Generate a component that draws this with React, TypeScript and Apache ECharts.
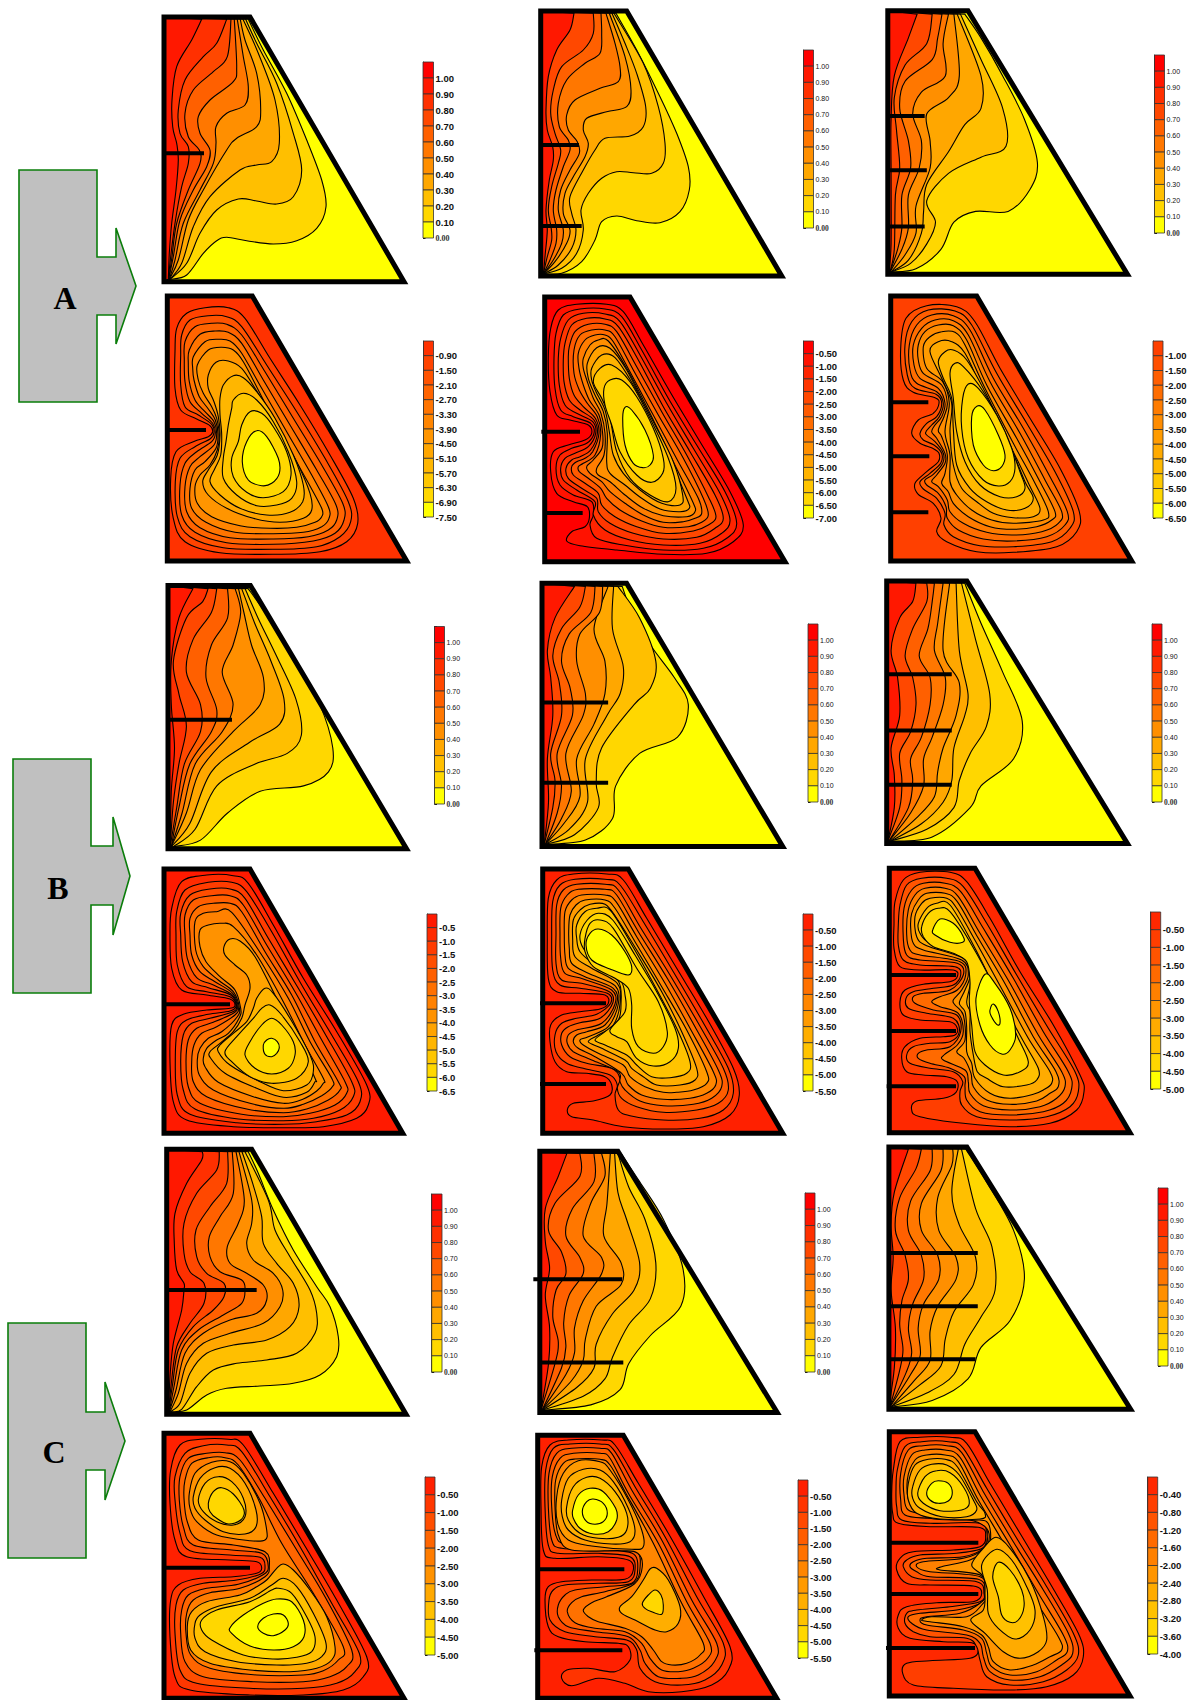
import React, { useEffect, useRef } from "react";
import * as echarts from "echarts";

// ---------- colour-bar tick labels ----------
const TEMP_LABELS = ["1.00","0.90","0.80","0.70","0.60","0.50","0.40","0.30","0.20","0.10","0.00"];
const A1B_LABELS = ["-0.90","-1.50","-2.10","-2.70","-3.30","-3.90","-4.50","-5.10","-5.70","-6.30","-6.90","-7.50"];
const A2B_LABELS = ["-0.50","-1.00","-1.50","-2.00","-2.50","-3.00","-3.50","-4.00","-4.50","-5.00","-5.50","-6.00","-6.50","-7.00"];
const A3B_LABELS = ["-1.00","-1.50","-2.00","-2.50","-3.00","-3.50","-4.00","-4.50","-5.00","-5.50","-6.00","-6.50"];
const B1B_LABELS = ["-0.5","-1.0","-1.5","-2.0","-2.5","-3.0","-3.5","-4.0","-4.5","-5.0","-5.5","-6.0","-6.5"];
const B2B_LABELS = ["-0.50","-1.00","-1.50","-2.00","-2.50","-3.00","-3.50","-4.00","-4.50","-5.00","-5.50"];
const B3B_LABELS = ["-0.50","-1.00","-1.50","-2.00","-2.50","-3.00","-3.50","-4.00","-4.50","-5.00"];
const C1B_LABELS = B3B_LABELS;
const C2B_LABELS = B2B_LABELS;
const C3B_LABELS = ["-0.40","-0.80","-1.20","-1.60","-2.00","-2.40","-2.80","-3.20","-3.60","-4.00"];

// ---------- enclosure outlines and baffles [x1, x2, y] ----------
const A1T_WALL = [492,51,750,51,1212,845,492,845];
const A1T_BAFFLES = [[492,612,460]];
const A1B_WALL = [82,33,337,33,800,828,82,828];
const A1B_BAFFLES = [[82,198,435]];
const A2T_WALL = [62,33,320,33,785,828,62,828];
const A2T_BAFFLES = [[62,177,435],[62,185,678]];
const A2B_WALL = [44,36,300,36,765,830,44,830];
const A2B_BAFFLES = [[34,150,440],[44,158,684]];
const A3T_WALL = [819,10,893,10,1040,253,819,253];
const A3T_BAFFLES = [[819,853,107],[819,855,157],[819,853,209]];
const A3B_WALL = [62,33,320,33,785,828,62,828];
const A3B_BAFFLES = [[62,175,352],[62,178,514],[62,175,682]];
const B1T_WALL = [155,540,231,540,375,783,155,783];
const B1T_BAFFLES = [[155,214,664]];
const B1B_WALL = [42,42,300,42,758,835,42,835];
const B1B_BAFFLES = [[42,240,448]];
const B2T_WALL = [500,538,578,538,722,781,500,781];
const B2T_BAFFLES = [[500,561,648],[500,561,722]];
const B2B_WALL = [38,42,295,42,758,835,38,835];
const B2B_BAFFLES = [[30,228,445],[30,228,687]];
const B3T_WALL = [818,536,892,536,1040,778,818,778];
const B3T_BAFFLES = [[818,878,622],[818,878,674],[818,878,724]];
const B3B_WALL = [58,40,315,40,780,833,58,833];
const B3B_BAFFLES = [[58,258,360],[58,258,528],[50,258,694]];
const C1T_WALL = [500,58,755,58,1218,853,500,853];
const C1T_BAFFLES = [[500,770,480]];
const C1B_WALL = [42,40,300,40,762,835,42,835];
const C1B_BAFFLES = [[36,300,443]];
const C2T_WALL = [498,1062,570,1062,717,1303,498,1303];
const C2T_BAFFLES = [[492,574,1180],[498,575,1257]];
const C2B_WALL = [38,46,295,46,755,835,38,835];
const C2B_BAFFLES = [[38,298,448],[28,292,691]];
const C3T_WALL = [820,1058,892,1058,1043,1300,820,1300];
const C3T_BAFFLES = [[820,902,1156],[820,902,1205],[820,900,1254]];
const C3B_WALL = [58,35,315,35,780,828,58,828];
const C3B_BAFFLES = [[58,325,368],[58,325,522],[48,315,684]];

// ---------- contour lines ----------
const A1T = [
[510,838,560,825,610,760,650,722,680,712,740,722,820,732,890,722,950,685,978,620,965,540,920,420,860,280,790,150,745,58],
[510,838,560,790,600,700,650,630,715,597,770,603,830,612,880,590,905,510,880,400,830,250,770,130,737,58],
[510,838,545,790,580,680,630,590,720,510,770,495,815,485,838,430,825,300,775,160,729,58],
[508,838,535,780,565,660,610,570,680,450,710,415,770,380,782,330,770,220,735,120,721,58],
[508,838,525,780,550,670,600,570,640,490,648,430,648,380,680,340,735,315,745,260,730,170,712,58],
[506,838,520,770,540,660,580,570,620,500,630,450,600,400,595,350,630,300,700,245,710,200,703,58],
[506,838,516,770,530,670,565,570,600,490,598,450,565,410,555,340,580,270,640,215,682,170,693,58],
[505,838,512,770,525,670,545,560,565,490,565,440,540,400,535,330,555,240,610,170,650,130,680,58],
[505,838,508,760,515,670,528,570,535,480,530,430,518,380,516,300,530,200,575,120,605,58],
];
const A1T_LEVELS = [9,8,7,6,5,4,3,2,1];
const A2T = [
[70,822,125,820,185,785,225,720,245,665,290,648,350,662,420,668,480,635,508,570,505,500,470,400,420,290,350,150,288,40],
[70,822,125,805,170,760,190,690,183,630,205,580,245,535,290,515,340,518,395,520,430,490,435,430,415,320,370,190,282,40],
[70,822,115,795,155,745,168,690,155,640,150,590,190,510,225,450,255,415,330,408,370,380,377,320,350,220,315,130,276,40],
[70,822,105,785,140,730,150,690,130,640,135,580,160,530,195,470,205,430,190,390,200,355,260,335,320,320,333,270,315,170,268,40],
[70,822,100,780,125,730,130,690,115,630,122,570,150,510,178,460,172,425,145,390,140,345,165,300,240,265,295,245,300,200,285,130,258,40],
[70,822,90,780,108,730,110,690,100,630,108,570,130,500,150,450,145,420,118,380,115,310,140,240,195,190,240,160,245,100,243,40],
[70,822,82,770,95,720,93,680,85,630,95,560,115,490,122,450,105,400,92,340,100,270,125,200,190,150,220,100,220,40],
[70,822,76,760,82,690,78,630,88,540,100,480,98,440,82,390,78,330,85,230,110,150,150,90,162,40],
];
const A2T_LEVELS = [9,8,7,6,5,4,3,1];
const A3T = [
[822,251,845,248,868,230,880,205,900,195,930,195,950,175,957,150,945,110,925,70,905,35,890,13],
[822,251,840,243,855,225,863,205,855,185,875,160,905,145,928,135,925,100,905,55,886,13],
[822,251,838,240,850,215,852,195,855,170,875,140,890,115,905,100,905,70,883,13],
[822,251,835,235,845,215,845,190,858,155,858,130,855,105,875,90,885,70,880,13],
[821,251,832,230,838,210,838,180,848,155,850,130,842,105,850,85,872,70,870,40,875,13],
[821,251,828,230,832,210,832,180,840,155,838,130,830,100,835,75,860,55,865,35,869,13],
[821,251,825,230,826,180,830,155,827,120,825,90,835,60,855,40,860,13],
[820,251,822,225,822,160,822,110,825,70,838,35,846,13],
];
const A3T_LEVELS = [9,8,7,6,5,4,3,1];
const B1T = [
[160,781,185,775,210,750,240,730,280,725,303,712,307,690,295,650,270,605,248,570,229,543],
[160,781,180,765,200,725,235,705,265,695,278,678,273,645,255,605,238,570,226,543],
[158,781,175,760,195,712,230,685,258,668,262,645,250,610,235,575,223,543],
[158,781,172,750,185,710,215,675,240,650,243,625,232,595,225,565,220,543],
[158,781,168,750,180,705,205,675,215,650,205,620,215,595,222,565,217,543],
[158,781,165,745,175,705,195,675,200,655,190,625,195,595,210,570,210,543],
[157,781,163,745,170,705,185,675,185,650,172,620,178,590,195,565,200,543],
[157,781,160,740,165,705,172,670,165,640,160,610,172,570,187,555,192,543],
[157,781,158,730,161,690,158,650,158,610,165,570,178,543],
];
const B1T_LEVELS = [9,8,7,6,5,4,3,2,1];
const B2T = [
[503,779,540,775,565,755,568,725,590,695,625,680,635,650,622,625,600,595,583,565,574,541],
[503,779,530,770,552,745,550,722,555,690,585,650,600,635,605,610,590,570,570,541],
[503,779,525,765,542,740,540,700,560,660,572,640,575,615,565,580,566,541],
[503,779,520,760,535,735,532,700,548,668,558,640,558,610,548,580,561,541],
[503,779,518,755,527,730,522,695,538,660,540,640,532,610,535,585,553,565,556,541],
[503,779,514,750,518,725,514,695,528,660,526,635,518,610,525,585,545,565,549,541],
[502,779,510,745,512,720,508,695,518,660,516,630,510,605,518,580,535,560,540,541],
[502,779,506,740,505,700,510,660,508,625,505,600,512,570,530,541],
];
const B2T_LEVELS = [9,8,7,6,5,4,3,1];
const B3T = [
[821,776,860,772,895,745,905,725,935,700,943,665,925,620,905,575,890,538],
[821,776,855,765,880,745,885,720,895,695,910,670,913,640,900,590,887,538],
[821,776,850,760,870,740,878,720,880,690,890,660,893,640,885,600,882,538],
[821,776,845,755,862,735,865,712,870,690,882,660,885,630,870,600,876,538],
[820,776,840,750,852,725,852,700,860,680,870,650,872,625,862,600,865,575,870,538],
[820,776,838,745,842,720,840,700,850,680,858,650,858,625,848,605,856,580,860,555,862,538],
[819,776,830,745,832,720,830,695,840,675,845,650,842,625,835,605,842,580,855,555,855,538],
[819,776,825,745,825,715,822,690,830,660,828,625,822,600,830,570,842,555,845,538],
];
const B3T_LEVELS = [9,8,7,6,5,4,3,1];
const C1T = [
[515,845,560,840,620,795,680,775,780,768,880,760,960,735,1010,680,1015,620,990,530,950,470,880,360,820,240,775,130,745,65],
[512,845,545,838,590,770,640,720,710,700,800,690,890,670,945,610,950,550,930,480,870,380,825,300,805,210,735,65],
[510,845,540,820,570,730,620,670,700,645,800,630,870,590,897,530,880,460,830,400,790,340,785,260,758,160,726,65],
[510,845,535,790,560,700,610,640,690,610,790,580,840,530,848,480,820,430,760,390,740,340,755,280,755,210,717,65],
[508,845,528,780,555,670,610,610,690,570,770,550,800,510,790,465,740,430,690,400,682,350,715,280,733,210,708,65],
[508,845,522,770,545,660,595,600,670,555,725,520,735,480,725,450,660,425,630,380,628,320,660,260,700,190,697,65],
[506,845,518,760,535,660,580,590,640,540,672,500,672,460,620,430,590,380,588,300,630,230,680,160,683,65],
[506,845,514,760,530,650,570,580,612,520,612,460,570,425,552,370,552,280,590,190,650,120,658,65],
[506,845,510,740,520,640,545,540,552,480,552,460,530,420,523,340,525,250,560,160,605,90,607,65],
];
const C1T_LEVELS = [9,8,7,6,5,4,3,2,1];
const C2T = [
[500,1301,545,1296,572,1282,580,1258,600,1232,628,1205,630,1170,612,1125,590,1090,573,1064],
[500,1301,538,1288,558,1272,565,1252,580,1222,600,1198,605,1165,595,1125,580,1095,570,1064],
[500,1301,532,1280,548,1262,550,1240,565,1212,585,1190,590,1165,578,1125,570,1100,567,1064],
[500,1301,527,1274,538,1255,540,1235,550,1205,573,1185,573,1165,557,1140,560,1110,563,1064],
[500,1301,522,1268,530,1248,530,1225,538,1200,555,1175,555,1160,538,1140,545,1110,558,1085,555,1064],
[500,1301,518,1262,522,1242,520,1220,525,1195,538,1175,535,1160,522,1140,528,1115,548,1090,548,1064],
[499,1301,512,1258,515,1238,510,1215,513,1190,522,1175,518,1155,506,1135,512,1110,535,1085,535,1064],
[499,1301,506,1258,507,1225,503,1195,507,1170,503,1145,503,1115,515,1085,523,1064],
];
const C2T_LEVELS = [9,8,7,6,5,4,3,1];
const C3T = [
[822,1298,860,1292,893,1272,905,1243,932,1218,945,1180,935,1135,910,1090,891,1060],
[822,1298,855,1285,880,1268,890,1240,905,1215,918,1190,915,1150,900,1115,887,1060],
[822,1298,848,1278,868,1260,872,1235,880,1210,898,1185,900,1160,885,1130,878,1100,884,1060],
[822,1298,844,1273,858,1255,858,1228,865,1205,882,1180,882,1160,866,1135,865,1105,878,1075,879,1060],
[821,1298,840,1268,849,1250,847,1225,852,1203,866,1180,865,1158,850,1135,850,1110,868,1080,870,1060],
[821,1298,836,1266,841,1248,838,1225,842,1203,852,1180,850,1158,838,1135,840,1108,858,1080,860,1060],
[821,1298,830,1264,833,1245,830,1222,832,1200,838,1180,835,1158,826,1135,830,1105,845,1078,850,1060],
[820,1298,825,1262,826,1225,822,1190,824,1160,822,1130,825,1100,838,1060],
];
const C3T_LEVELS = [9,8,7,6,5,4,3,1];

const A1B = [
[110,130,140,85,195,68,265,68,315,100,390,220,480,360,570,510,640,640,653,715,620,770,540,800,400,808,240,803,135,770,100,700,92,580,108,500,160,470,205,455,218,440,210,422,170,402,122,375,105,310,105,200],
[125,150,150,105,205,92,260,95,305,125,380,240,470,380,555,520,625,650,632,710,600,755,530,785,400,793,250,788,150,755,112,695,106,590,120,520,165,485,210,462,222,443,215,418,175,390,135,365,122,300,122,210],
[135,170,165,125,215,115,260,118,305,150,375,260,460,400,545,540,608,655,612,705,585,745,520,768,400,778,260,773,165,742,125,690,120,600,135,535,170,500,215,470,226,445,218,415,185,385,150,350,135,290,133,225],
[148,195,180,148,225,138,265,142,305,175,370,285,450,420,530,555,588,660,590,705,565,735,505,755,400,762,270,758,180,728,140,680,135,605,150,545,180,515,222,480,230,445,222,410,195,380,165,345,148,290,145,235],
[160,215,195,170,235,163,270,168,305,205,365,310,440,440,515,570,565,665,567,700,545,725,490,742,400,746,285,742,198,712,155,670,150,610,165,555,195,530,228,490,234,447,226,405,205,372,178,335,162,285,158,250],
[172,240,205,195,245,187,280,195,310,230,365,335,430,460,500,585,545,670,545,695,525,712,470,727,390,730,300,722,215,695,172,655,165,605,180,570,210,540,232,495,238,450,230,400,215,365,190,325,175,285],
[205,270,228,232,265,228,305,250,345,310,405,410,470,530,510,625,515,675,490,700,420,712,340,700,260,670,205,630,188,590,205,555,232,510,240,450,235,395,222,350,205,310],
[250,300,280,272,310,278,350,320,405,400,460,510,490,600,488,650,450,682,380,690,300,670,240,630,210,590,225,550,242,510,245,450,240,390,240,340],
[280,345,310,325,350,345,400,410,445,500,470,590,455,640,410,660,350,662,290,630,250,580,250,520,258,470,265,420,275,370],
[305,420,330,380,365,385,400,425,440,500,453,570,430,620,370,638,320,622,280,575,275,520,295,470],
[320,470,350,437,380,455,415,520,418,565,395,595,365,602,325,585,307,530],
];
const A1B_LEVELS = [1,2,3,4,5,6,7,8,9,10,11];
const A2B = [
[62,130,85,75,140,58,230,58,280,80,340,180,420,320,510,470,600,620,640,720,610,770,530,805,400,808,260,795,150,782,110,768,125,740,165,725,178,700,172,665,130,650,80,625,62,560,70,500,115,480,165,465,185,445,175,420,120,405,80,390,60,320,55,220],
[78,145,100,90,150,72,225,72,275,95,335,195,415,340,500,480,585,620,620,715,590,760,520,790,400,795,280,780,200,760,180,720,190,690,185,650,130,630,90,600,78,550,90,510,125,490,170,475,192,445,182,415,130,395,92,375,75,310,72,220],
[92,160,115,105,160,85,225,87,270,110,330,210,410,355,490,490,570,625,600,705,575,745,510,775,400,780,300,765,225,735,190,690,195,650,140,615,100,585,92,550,105,520,135,505,175,485,197,445,188,410,140,385,105,360,88,300,85,220],
[105,175,125,120,170,100,225,102,265,125,325,225,400,365,480,500,555,630,580,700,555,730,500,757,400,762,310,745,240,715,205,680,200,640,155,610,115,580,108,550,125,525,150,515,182,495,202,447,192,405,150,375,118,345,102,290,100,225],
[118,185,135,140,175,118,225,118,260,140,320,245,395,380,470,510,535,635,558,695,535,720,490,738,400,745,320,725,255,695,215,660,205,625,165,595,130,570,125,545,140,530,165,520,188,500,207,445,196,400,160,365,132,330,118,280,115,220],
[132,195,150,150,185,135,225,135,255,155,310,255,385,390,460,520,520,640,535,690,515,712,475,725,400,727,335,708,270,675,230,640,212,610,175,580,148,560,145,545,160,535,195,510,212,447,202,395,172,355,148,315,132,265],
[145,205,165,165,195,150,225,150,250,170,305,270,375,400,445,530,505,640,515,685,495,700,460,710,400,712,340,690,285,655,240,620,215,590,180,565,170,545,190,525,216,490,218,447,207,390,178,345,160,300,147,250],
[160,220,180,180,205,165,235,168,290,250,360,385,430,530,488,650,495,680,470,695,400,692,340,670,285,630,240,590,205,570,200,550,222,510,225,445,213,385,190,340,172,290,160,250],
[172,235,200,188,240,190,290,255,350,375,415,510,470,640,478,670,450,680,390,672,335,640,285,600,240,565,230,530,232,445,220,380,195,330,175,280],
[185,250,215,210,255,218,310,300,375,420,430,530,458,630,450,660,395,655,330,615,280,565,250,510,238,440,225,375,198,320,185,285],
[190,290,210,250,245,240,300,290,360,400,415,520,438,610,415,650,360,630,300,580,260,500,240,400,215,340],
[222,310,240,285,275,285,320,335,370,430,400,520,398,565,365,592,320,570,270,500,245,420,225,360],
[278,400,285,367,305,375,345,435,370,510,360,540,340,548,310,535,285,480],
];
const A2B_LEVELS = [1,2,3,4,5,6,7,8,9,10,11,12,13];
const A3B = [
[92,190,108,100,170,62,260,65,315,110,390,250,480,400,570,550,628,680,620,740,560,785,430,802,320,800,230,770,200,740,213,700,190,655,145,628,135,595,170,560,205,530,207,505,188,490,150,475,125,445,145,405,190,385,207,355,195,338,130,322,100,285],
[105,180,125,110,175,75,255,78,305,120,380,265,470,415,555,560,610,680,600,730,545,770,430,785,330,782,250,755,222,720,225,685,200,640,160,612,150,590,180,565,212,535,215,505,192,480,160,465,150,445,170,415,200,395,215,355,198,328,135,310,112,270],
[118,180,140,120,185,90,250,92,300,135,370,280,460,430,540,575,592,680,585,720,530,755,430,768,340,762,265,735,232,700,228,665,205,625,170,600,165,585,190,568,218,535,220,505,195,470,170,450,168,440,185,420,208,395,220,355,200,320,140,295,120,255],
[130,180,155,130,195,105,250,107,295,150,360,290,450,445,525,585,575,680,565,715,515,740,430,750,350,742,280,715,240,680,232,645,205,605,185,590,200,570,225,535,225,505,200,460,185,440,195,420,215,395,225,355,205,310,150,280,132,240],
[145,180,165,140,205,120,250,122,290,165,350,300,440,460,510,590,555,680,545,705,500,725,430,733,360,725,295,695,250,655,235,620,215,595,225,565,232,510,215,455,205,435,222,395,232,355,215,300,160,265,145,225],
[160,185,180,155,215,140,255,142,285,180,345,310,430,475,495,595,535,680,520,705,430,715,365,705,305,675,260,630,240,590,240,510,225,440,238,355,218,290,170,250],
[180,200,205,170,245,170,285,205,340,320,415,470,478,600,510,670,490,695,430,698,370,685,320,650,275,610,250,540,240,440,245,355,215,280],
[205,230,225,200,250,195,290,225,350,330,415,470,465,590,490,640,465,670,410,675,350,650,300,610,260,540,250,430,245,340,220,280],
[240,265,255,235,280,245,340,320,400,430,450,560,465,610,440,635,390,635,330,600,285,530,260,440,250,340],
[278,340,295,297,325,310,380,390,425,490,435,550,420,590,385,603,340,585,295,520,275,430],
[305,395,322,363,345,375,385,450,405,510,395,545,370,557,340,540,310,480],
];
const A3B_LEVELS = [1,2,3,4,5,6,7,8,9,10,11];
const B1B = [
[65,160,95,80,170,60,250,62,295,85,370,210,460,370,560,530,650,690,655,750,620,790,520,815,400,818,250,815,110,795,70,740,60,620,65,510,100,478,170,465,240,460,255,450,240,432,170,420,95,405,65,340,60,240],
[80,170,105,105,175,82,245,82,290,110,365,230,455,390,545,540,625,680,630,740,590,780,500,800,400,808,260,803,120,778,82,720,76,620,82,530,110,495,175,478,240,468,258,453,240,425,170,410,110,395,82,330,78,240],
[92,175,120,120,180,102,240,102,285,130,355,250,445,400,530,545,605,680,610,725,570,765,490,790,400,797,265,792,135,762,100,705,92,620,100,540,125,505,180,490,245,472,260,455,242,420,175,398,125,380,98,320,92,240],
[105,180,130,135,185,122,240,122,280,150,350,270,435,410,515,555,585,680,590,715,555,750,480,775,400,785,275,778,150,745,115,695,108,620,115,555,140,520,190,502,250,475,262,455,245,418,185,388,140,368,112,310,105,240],
[120,190,145,155,190,145,240,145,275,170,345,290,425,420,495,560,565,680,570,705,535,735,470,762,400,773,290,762,170,725,130,680,125,620,132,570,155,535,200,515,255,480,265,458,248,415,195,380,150,350,125,300,120,240],
[135,200,160,175,200,170,245,172,335,300,415,430,480,560,545,670,547,695,515,722,460,748,400,760,300,745,190,705,148,660,142,615,150,580,175,550,215,530,262,485,268,458,250,410,205,375,160,335,137,285],
[150,225,175,210,215,205,250,215,320,300,400,440,465,570,520,670,520,685,500,708,460,732,400,745,310,725,205,682,165,635,160,610,170,580,200,555,235,535,268,488,272,460,255,405,210,365,168,320,150,275],
[222,275,240,252,270,258,315,305,385,440,445,560,495,670,495,680,470,712,400,727,320,700,225,655,182,610,180,590,210,565,250,530,275,490,285,450,300,400,290,360,255,330,225,300],
[320,430,345,400,370,415,420,490,480,600,490,650,470,690,400,707,330,680,240,630,205,590,210,570,250,535,290,500,310,460],
[335,460,360,450,395,480,450,560,475,620,440,670,365,685,300,665,245,620,225,590,260,545,310,490],
[300,560,335,510,365,490,395,510,430,560,435,600,415,640,365,657,315,640,285,600],
[340,570,350,555,365,550,382,560,388,578,380,595,365,605,345,598],
];
const B1B_LEVELS = [1,2,3,4,5,6,7,8,9,10,11,12];
const B2B = [
[55,130,80,75,130,57,230,57,280,75,350,190,440,340,530,490,610,640,628,720,600,780,520,815,400,822,280,815,190,795,125,785,112,765,130,745,190,738,240,720,245,690,225,665,170,655,110,650,75,620,60,560,62,510,95,480,150,470,210,462,235,445,225,420,150,415,80,410,55,370,52,250],
[68,140,90,90,135,73,225,73,270,90,340,200,430,350,515,495,595,640,610,715,580,765,510,790,400,795,300,782,265,765,255,720,262,690,240,660,160,640,110,625,78,590,75,540,95,505,140,490,200,478,242,445,232,415,150,400,90,390,68,345,65,240],
[80,150,100,105,140,88,225,88,265,105,330,215,420,360,505,505,580,640,595,705,565,745,500,765,400,772,320,755,275,730,262,700,270,670,245,640,170,625,120,605,95,570,95,535,115,515,150,503,210,490,248,445,238,410,155,385,95,375,78,325,78,240],
[92,160,112,120,145,103,225,103,260,120,325,230,415,375,495,515,565,645,575,695,545,730,490,748,400,752,330,738,285,705,270,680,265,650,185,615,130,590,112,565,115,540,140,525,215,505,255,447,245,405,160,372,105,355,92,310,90,240],
[105,170,125,135,155,120,225,120,258,140,320,245,405,385,480,520,550,650,557,690,530,715,480,730,400,733,335,720,295,690,275,655,195,605,145,580,130,560,140,540,170,530,225,510,260,447,250,400,165,365,115,340,105,300,103,240],
[120,180,138,150,165,135,225,135,255,160,315,260,395,395,470,525,530,650,530,685,490,705,440,712,400,712,345,695,300,665,280,630,205,595,160,570,150,555,175,545,235,515,265,447,255,392,175,355,125,325,118,280,116,230],
[130,195,150,165,180,148,225,148,260,190,320,285,395,410,455,530,500,640,495,675,450,690,380,690,340,665,305,640,285,615,215,580,175,560,205,540,250,510,270,447,262,385,185,340,135,305,128,255],
[140,210,165,170,200,160,240,165,300,260,370,385,440,520,480,620,470,655,420,668,365,665,320,630,290,600,225,570,195,555,225,530,265,495,273,450,265,378,195,330,150,290,140,250],
[150,240,172,195,205,175,248,195,315,300,380,410,435,520,445,580,420,620,370,633,320,610,290,560,260,545,240,525,285,470,285,420,270,375,200,325,160,280],
[165,250,180,205,210,195,250,220,320,340,385,440,412,530,400,575,370,595,325,575,305,520,305,450,295,400,255,370,190,335,165,290],
[168,270,180,235,205,222,245,240,285,290,305,335,295,360,240,342,185,315],
];
const B2B_LEVELS = [1,2,3,4,5,6,7,8,9,9,10];
const B3B = [
[75,140,100,75,150,52,240,52,290,80,360,190,450,350,550,510,630,660,642,710,620,765,540,805,420,815,280,805,150,785,125,765,140,738,220,730,258,712,262,680,230,665,160,660,110,650,95,610,105,575,150,550,220,545,255,540,262,520,240,500,150,495,100,480,90,440,105,405,160,388,240,380,262,365,250,345,150,345,90,335,72,280,72,210],
[90,150,110,90,155,70,230,70,280,95,350,205,440,360,535,520,615,650,625,710,600,755,530,785,420,795,320,785,275,750,270,710,278,680,250,650,180,640,120,625,110,600,130,575,180,565,240,560,268,530,250,490,170,475,115,460,108,430,130,410,190,400,250,390,272,360,255,335,150,330,100,315,85,270,85,210],
[102,160,125,105,160,85,225,85,272,110,340,220,430,370,520,530,595,650,605,700,580,745,520,770,420,780,330,770,290,735,285,695,283,665,240,640,180,625,145,610,145,595,170,585,240,575,272,530,260,480,190,465,135,445,130,425,160,415,240,405,280,360,262,325,150,315,110,300,100,250],
[115,165,135,120,165,100,225,100,265,125,330,235,420,385,505,540,575,650,585,695,560,730,510,755,420,765,340,752,300,715,295,680,285,645,220,615,222,600,262,570,280,530,265,475,210,455,185,440,210,425,262,405,287,360,270,320,150,300,120,285,110,240],
[125,175,145,135,170,115,225,115,262,140,325,250,410,395,490,545,558,650,565,695,540,715,500,738,420,748,350,735,310,695,303,655,282,610,260,590,285,555,280,480,255,450,250,435,275,405,295,360,275,315,160,285,130,265,122,220],
[135,185,155,145,180,130,230,130,260,160,320,265,400,410,475,550,540,650,545,685,520,705,490,718,420,730,360,715,315,670,305,625,290,590,290,520,285,470,268,445,285,405,300,360,280,310,170,272,140,245],
[145,205,170,160,200,145,240,150,310,270,385,420,455,550,505,640,500,675,470,690,400,695,350,670,322,650,310,600,300,530,300,470,290,440,305,360,285,305,180,265,150,235],
[155,215,175,175,205,160,240,170,305,270,375,400,440,540,475,620,450,650,400,660,345,630,315,590,305,510,298,440,300,380,290,320,250,295,190,275,160,245],
[188,225,210,192,250,205,280,245,278,262,240,262,195,240],
[318,430,345,358,375,385,420,460,437,540,420,585,395,597,360,570,330,510],
[360,465,370,447,385,470,390,505,380,508,362,480],
];
const B3B_LEVELS = [1,2,3,4,5,6,7,8,9,9,10];
const C1B = [
[62,150,90,75,150,58,235,58,280,75,370,220,460,370,560,540,650,710,640,770,580,810,460,825,300,825,120,810,75,770,60,650,62,540,85,495,150,475,250,470,320,460,335,445,320,425,240,420,110,410,75,360,60,250],
[75,170,105,100,160,77,230,75,275,95,360,230,450,380,545,550,628,700,615,755,560,790,460,805,300,805,140,790,90,750,75,640,78,555,100,510,160,490,260,480,332,462,345,440,330,412,240,405,120,392,90,340,75,240],
[90,170,115,115,170,100,225,98,270,120,345,235,440,390,525,530,605,690,590,740,540,770,460,785,310,785,160,770,105,725,92,640,95,570,115,525,170,505,265,493,338,465,355,440,335,400,245,390,130,375,100,320,88,240],
[105,180,125,130,175,113,225,113,265,135,330,240,395,370,490,520,580,680,565,720,520,752,460,765,320,765,180,745,122,705,108,640,110,580,130,540,180,518,270,505,345,470,358,440,345,395,250,375,145,360,112,305,102,235],
[118,220,135,160,185,127,240,125,280,160,330,250,350,330,345,360,300,362,200,345,140,305,120,265],
[130,230,150,175,195,143,240,145,285,190,318,270,318,320,285,342,220,335,165,300,135,265],
[145,240,165,190,205,170,245,185,280,235,285,290,250,315,200,305,160,275],
[175,250,190,215,215,203,250,222,282,270,272,300,235,312,200,295,180,275],
[350,480,380,445,400,432,430,450,480,510,530,590,555,680,545,720,500,745,420,755,300,750,180,730,122,690,112,620,125,575,170,545,270,525,320,500],
[400,475,440,500,490,580,528,670,515,710,470,730,380,735,260,725,165,695,135,655,135,610,150,585,200,560,300,535,365,495],
[385,505,425,520,470,590,495,650,485,695,440,712,370,717,280,705,185,660,155,630,155,600,200,570,300,545,365,510],
[380,537,425,545,460,600,462,650,430,680,370,690,300,678,245,640,242,620,280,585,340,550],
[370,582,400,585,415,610,405,630,370,647,340,640,323,620,340,595],
];
const C1B_LEVELS = [1,2,3,4,5,6,7,8,6,7,8,9,10];
const C2B = [
[50,140,75,75,130,60,230,60,270,75,340,190,430,340,530,520,615,680,610,750,560,795,470,815,370,815,300,790,220,775,140,797,110,775,125,750,190,745,270,755,315,720,310,680,280,670,180,665,100,650,70,620,60,540,70,500,110,485,200,480,300,478,325,450,310,420,220,410,90,415,55,390,48,260],
[62,150,85,85,135,72,225,72,265,88,330,200,420,350,515,530,595,670,590,735,540,780,470,795,390,785,345,745,335,690,305,660,210,650,120,635,75,600,72,540,85,510,120,495,220,490,310,485,330,450,315,410,220,400,100,400,70,375,60,260],
[72,160,95,100,140,85,225,85,260,100,320,210,410,360,500,540,575,670,568,725,520,765,470,775,400,770,360,730,345,690,310,650,210,635,130,620,100,590,100,555,120,525,150,510,240,500,320,490,338,450,322,400,220,390,110,385,80,360,70,260],
[82,170,105,115,145,100,225,100,255,115,310,220,400,370,485,545,555,670,548,715,505,745,460,755,410,750,375,715,350,670,300,635,210,625,150,608,127,575,140,548,170,530,240,515,325,490,345,445,330,390,220,378,120,372,92,345,80,260],
[92,180,115,130,150,117,225,118,255,135,300,215,385,370,470,550,535,670,525,705,485,730,440,735,410,725,385,690,350,650,300,625,220,605,190,590,175,570,200,548,245,530,328,492,352,440,338,400,290,392,140,390,100,345,90,260],
[95,230,115,160,160,122,225,125,255,150,310,240,350,330,355,380,320,388,200,378,130,360,98,310],
[110,240,130,175,175,148,225,150,265,185,310,265,330,330,315,365,260,372,180,360,130,330,112,290],
[125,260,145,200,185,172,225,175,270,215,305,280,305,330,280,352,220,355,165,340,130,300],
[143,270,160,225,195,205,235,215,272,265,275,300,250,335,205,342,165,325,145,295],
[172,275,185,245,205,237,235,250,247,280,235,305,210,313,185,305],
[375,447,395,445,430,480,465,560,460,610,425,635,390,630,330,600,290,580,285,560,320,530,355,480],
[352,550,370,525,390,510,408,525,415,555,410,583,380,575,360,565],
];
const C2B_LEVELS = [1,2,3,4,5,6,7,8,10,11,7,9];
const C3B = [
[70,150,90,65,150,52,240,52,290,70,360,190,450,340,540,490,625,640,640,710,610,765,530,800,420,810,250,805,130,795,98,760,110,730,180,722,300,715,325,690,305,668,220,665,120,655,85,625,85,585,110,560,200,548,310,545,335,520,310,498,180,495,110,490,80,450,90,415,130,395,250,390,330,380,347,350,325,322,180,320,85,310,68,280,65,220],
[82,150,105,80,155,65,235,65,280,85,350,205,440,355,530,500,610,640,625,705,590,750,520,785,420,795,350,770,330,720,320,680,290,655,180,650,130,635,105,610,110,580,140,570,240,560,330,545,342,520,320,485,180,480,125,470,100,440,110,420,150,405,260,400,337,385,347,350,330,310,180,310,95,300,80,260,78,210],
[92,160,115,90,160,77,230,77,275,98,340,215,430,365,520,510,595,640,608,700,575,735,510,770,420,780,360,755,340,710,330,670,290,645,170,630,125,610,115,590,150,580,260,570,335,548,345,520,325,478,180,470,140,455,120,440,130,425,170,415,280,410,340,385,352,350,330,300,180,295,105,285,92,240],
[102,170,125,105,165,90,225,90,270,112,330,225,420,375,505,520,580,645,592,695,560,720,500,755,420,765,365,740,350,700,335,655,280,630,170,615,150,600,170,590,270,580,330,550,350,520,330,470,180,455,140,440,160,425,280,415,345,385,358,350,345,320,300,300,180,285,115,270,102,225],
[112,180,135,120,170,105,225,105,265,125,325,240,410,385,490,530,565,650,575,690,540,710,490,735,420,750,370,725,355,680,335,645,280,620,180,605,155,600,185,590,290,590,335,555,355,520,330,465,210,450,215,440,300,420,350,385,362,350,350,305,300,300,180,295,122,255],
[115,190,135,135,175,118,225,118,262,140,320,245,345,280,330,297,210,297,140,280,115,240],
[128,200,150,150,185,133,230,135,268,165,310,240,320,270,290,290,215,290,150,265,128,235],
[143,220,165,170,200,152,240,158,280,200,298,250,275,270,210,272,160,250],
[170,218,185,190,205,182,235,190,247,218,235,243,205,250,180,240],
[378,352,420,385,480,480,520,590,530,660,505,695,450,715,400,695,345,640,302,600,340,570,345,520,340,470,305,435,340,385],
[380,388,425,420,470,500,495,570,480,630,435,657,385,625,355,580,352,510,335,435],
[385,427,420,450,455,510,462,560,445,600,420,607,395,585,385,530,368,470],
];
const C3B_LEVELS = [1,2,3,4,5,6,7,8,10,6,7,8];

// ---------- page layout (px) ----------
const OVERVIEW: [number, number, number, number, number] = [0, 0, 1191, 1700, 0.9225];
const crop = (x: number, y: number, w: number, h: number): [number, number, number, number, number] => [x, y, w, h, 3];

type P = { closed: boolean; frame: number[]; wall: number[]; baffles: number[][]; lines: number[][]; levels: number[];
  labels: string[]; topG: number; bar: number[]; font: number; bold: boolean };

const T = (frame: any, wall: number[], baffles: number[][], lines: number[][], levels: number[], bar: number[], font = 7, bold = false): P =>
  ({ closed: false, frame, wall, baffles, lines, levels, labels: TEMP_LABELS, topG: 0, bar, font, bold });
const S = (frame: any, wall: number[], baffles: number[][], lines: number[][], levels: number[], labels: string[], topG: number, bar: number[]): P =>
  ({ closed: true, frame, wall, baffles, lines, levels, labels, topG, bar, font: 9.5, bold: true });

const PANELS: P[] = [
  T(crop(0,0,480,290), A1T_WALL, A1T_BAFFLES, A1T, A1T_LEVELS, [423,62,10.5,176], 9.5, true),
  S(crop(140,285,340,285), A1B_WALL, A1B_BAFFLES, A1B, A1B_LEVELS, A1B_LABELS, 50, [423.5,341,10,176]),
  T(crop(520,0,340,285), A2T_WALL, A2T_BAFFLES, A2T, A2T_LEVELS, [803.5,50,10,178]),
  S(crop(530,285,340,285), A2B_WALL, A2B_BAFFLES, A2B, A2B_LEVELS, A2B_LABELS, 0, [803.5,341,10,177]),
  T(OVERVIEW, A3T_WALL, A3T_BAFFLES, A3T, A3T_LEVELS, [1154.5,55,10,178]),
  S(crop(870,285,321,285), A3B_WALL, A3B_BAFFLES, A3B, A3B_LEVELS, A3B_LABELS, 64, [1153,341,10,177]),
  T(OVERVIEW, B1T_WALL, B1T_BAFFLES, B1T, B1T_LEVELS, [434.5,626.5,10,177.5]),
  S(crop(150,855,340,285), B1B_WALL, B1B_BAFFLES, B1B, B1B_LEVELS, B1B_LABELS, 26, [427,914,10,177]),
  T(OVERVIEW, B2T_WALL, B2T_BAFFLES, B2T, B2T_LEVELS, [808,624,10,178]),
  S(crop(530,855,340,285), B2B_WALL, B2B_BAFFLES, B2B, B2B_LEVELS, B2B_LABELS, 32, [803,914,10,177]),
  T(OVERVIEW, B3T_WALL, B3T_BAFFLES, B3T, B3T_LEVELS, [1152,624,10,178]),
  S(crop(870,855,321,285), B3B_WALL, B3B_BAFFLES, B3B, B3B_LEVELS, B3B_LABELS, 40, [1150.7,912,10,177]),
  T([0,1130,480,300,3], C1T_WALL, C1T_BAFFLES, C1T, C1T_LEVELS, [431.7,1194,10.3,178]),
  S(crop(150,1420,340,280), C1B_WALL, C1B_BAFFLES, C1B, C1B_LEVELS, C1B_LABELS, 32, [425,1477,10,178]),
  T(OVERVIEW, C2T_WALL, C2T_BAFFLES, C2T, C2T_LEVELS, [805,1193,10,179]),
  S(crop(525,1420,340,280), C2B_WALL, C2B_BAFFLES, C2B, C2B_LEVELS, C2B_LABELS, 32, [798,1480,10,178]),
  T(OVERVIEW, C3T_WALL, C3T_BAFFLES, C3T, C3T_LEVELS, [1158,1188,10,178]),
  S(crop(870,1420,321,280), C3B_WALL, C3B_BAFFLES, C3B, C3B_LEVELS, C3B_LABELS, 40, [1147.7,1477,10,177]),
];

const ARROWS = [
  { letter: "A", lx: 65, ly: 298, pts: [[19,170],[97,170],[97,257],[116,257],[116,228],[136,286],[116,344],[116,315],[97,315],[97,402],[19,402]] },
  { letter: "B", lx: 58, ly: 888, pts: [[13,759],[91,759],[91,846],[113,846],[113,817],[130,876],[113,935],[113,905],[91,905],[91,993],[13,993]] },
  { letter: "C", lx: 54, ly: 1452, pts: [[8,1323],[86,1323],[86,1412],[105,1412],[105,1382],[125,1441],[105,1500],[105,1470],[86,1470],[86,1558],[8,1558]] },
];

// ---------- drawing helpers ----------
const bandColor = (i: number, n: number, topG: number) => {
  if (i >= n - 1) return "#ffff00";
  const g = Math.round(topG + ((215 - topG) * i) / (n - 2));
  return `rgb(255,${g},0)`;
};
const f = (v: number) => v.toFixed(1);
function spline(p: number[][], closed: boolean) {
  const n = p.length;
  const at = (i: number) => (closed ? p[(i + n) % n] : p[Math.max(0, Math.min(n - 1, i))]);
  let d = `M${f(p[0][0])} ${f(p[0][1])}`;
  const last = closed ? n : n - 1;
  for (let i = 0; i < last; i++) {
    const a = at(i - 1), b = at(i), c = at(i + 1), e = at(i + 2);
    d += `C${f(b[0] + (c[0] - a[0]) / 6)} ${f(b[1] + (c[1] - a[1]) / 6)} ${f(c[0] - (e[0] - b[0]) / 6)} ${f(c[1] - (e[1] - b[1]) / 6)} ${f(c[0])} ${f(c[1])}`;
  }
  return d + (closed ? "Z" : "");
}
const pairs = (a: number[]) => {
  const out: number[][] = [];
  for (let i = 0; i < a.length; i += 2) out.push([a[i], a[i + 1]]);
  return out;
};

function buildOption() {
  const grid: any[] = [], xAxis: any[] = [], yAxis: any[] = [], series: any[] = [];
  PANELS.forEach((p) => {
    const [cx, cy, w, h, s] = p.frame;
    const gi = grid.length;
    grid.push({ left: cx, top: cy, width: w, height: h });
    xAxis.push({ type: "value", gridIndex: gi, min: 0, max: w * s, show: false });
    yAxis.push({ type: "value", gridIndex: gi, min: 0, max: h * s, inverse: true, show: false });
    const n = p.labels.length;
    type Item = { kind: string; pts?: number[][]; lvl?: number; b?: number[] };
    const items: Item[] = [{ kind: "base" }];
    p.lines.forEach((l, i) => items.push({ kind: "line", pts: pairs(l), lvl: p.levels[i] }));
    items.push({ kind: "wall" });
    p.baffles.forEach((b) => items.push({ kind: "baffle", b }));
    const wall = pairs(p.wall);
    series.push({
      type: "custom", xAxisIndex: gi, yAxisIndex: gi, clip: false, silent: true,
      data: items.map((_, i) => [0, i]),
      renderItem: (params: any, api: any) => {
        const it = items[params.dataIndex];
        const px = (q: number[]) => api.coord(q) as number[];
        const wallD = wall.map((q, i) => { const c = px(q); return `${i ? "L" : "M"}${f(c[0])} ${f(c[1])}`; }).join("") + "Z";
        if (it.kind === "base")
          return { type: "path", shape: { pathData: wallD }, style: { fill: p.closed ? bandColor(0, n, p.topG) : "#ffff00", stroke: "none" } };
        if (it.kind === "wall")
          return { type: "path", shape: { pathData: wallD }, style: { fill: "none", stroke: "#000", lineWidth: 5, lineJoin: "miter", miterLimit: 8 } };
        if (it.kind === "baffle") {
          const a = px([it.b![0], it.b![2]]), c = px([it.b![1], it.b![2]]);
          return { type: "line", shape: { x1: a[0], y1: a[1], x2: c[0], y2: c[1] }, style: { stroke: "#000", lineWidth: 4 } };
        }
        const pts = it.pts!.map(px);
        let d = spline(pts, p.closed);
        if (!p.closed) {
          const tl = px(wall[0]), bl = px(wall[3]);
          d += `L${f(tl[0])} ${f(tl[1])}L${f(bl[0])} ${f(bl[1])}Z`;
        }
        return { type: "path", shape: { pathData: d }, style: { fill: bandColor(it.lvl!, n, p.topG), stroke: "#000", lineWidth: 1.1 } };
      },
    });

    // colour bar
    const [bx, by, bw, bh] = p.bar;
    const bi = grid.length;
    const cats = [...p.labels].reverse().concat([""]);
    grid.push({ left: bx, top: by, width: bw, height: bh });
    xAxis.push({ type: "value", gridIndex: bi, min: 0, max: 1, show: false });
    yAxis.push({
      type: "category", gridIndex: bi, data: cats, boundaryGap: false, position: "right",
      axisLine: { show: true, lineStyle: { color: "#333", width: 1 } },
      axisTick: { show: true, length: 2.5, lineStyle: { color: "#111" } },
      axisLabel: {
        interval: 0, margin: 2, hideOverlap: false, color: "#111", fontFamily: "Liberation Sans",
        fontSize: p.font, fontWeight: p.bold ? "bold" : "normal",
        formatter: (v: string) => (v === "0.00" ? "{z|0.00}" : v),
        rich: { z: { fontFamily: "Liberation Serif", fontWeight: "bold", fontSize: p.font === 7 ? 7.5 : 8, color: "#333" } },
      },
    });
    series.push({
      type: "custom", xAxisIndex: bi, yAxisIndex: bi, clip: false, silent: true,
      data: p.labels.map((_, i) => [0, i]),
      renderItem: (params: any, api: any) => {
        const i = params.dataIndex;
        const a = api.coord([0, n - i]), b = api.coord([1, n - i - 1]);
        return { type: "rect", shape: { x: a[0], y: a[1], width: b[0] - a[0], height: b[1] - a[1] },
          style: { fill: bandColor(i, n, p.topG), stroke: "#333", lineWidth: 0.8 } };
      },
    });
  });

  const graphic = ARROWS.flatMap((a) => [
    { type: "polygon", shape: { points: a.pts }, style: { fill: "#c0c0c0", stroke: "#0a7d0a", lineWidth: 1.6 } },
    { type: "text", x: a.lx, y: a.ly, style: { text: a.letter, fill: "#000", font: "bold 32px 'Liberation Serif'", textAlign: "center", textVerticalAlign: "middle" } },
  ]);
  return { animation: false, backgroundColor: "#fff", grid, xAxis, yAxis, series, graphic };
}

export default function App() {
  const ref = useRef<HTMLDivElement>(null);
  useEffect(() => {
    const chart = echarts.init(ref.current!, undefined, { renderer: "svg" });
    chart.setOption(buildOption() as any);
    return () => chart.dispose();
  }, []);
  return <div ref={ref} style={{ position: "absolute", left: 0, top: 0, width: 1191, height: 1700 }} />;
}
